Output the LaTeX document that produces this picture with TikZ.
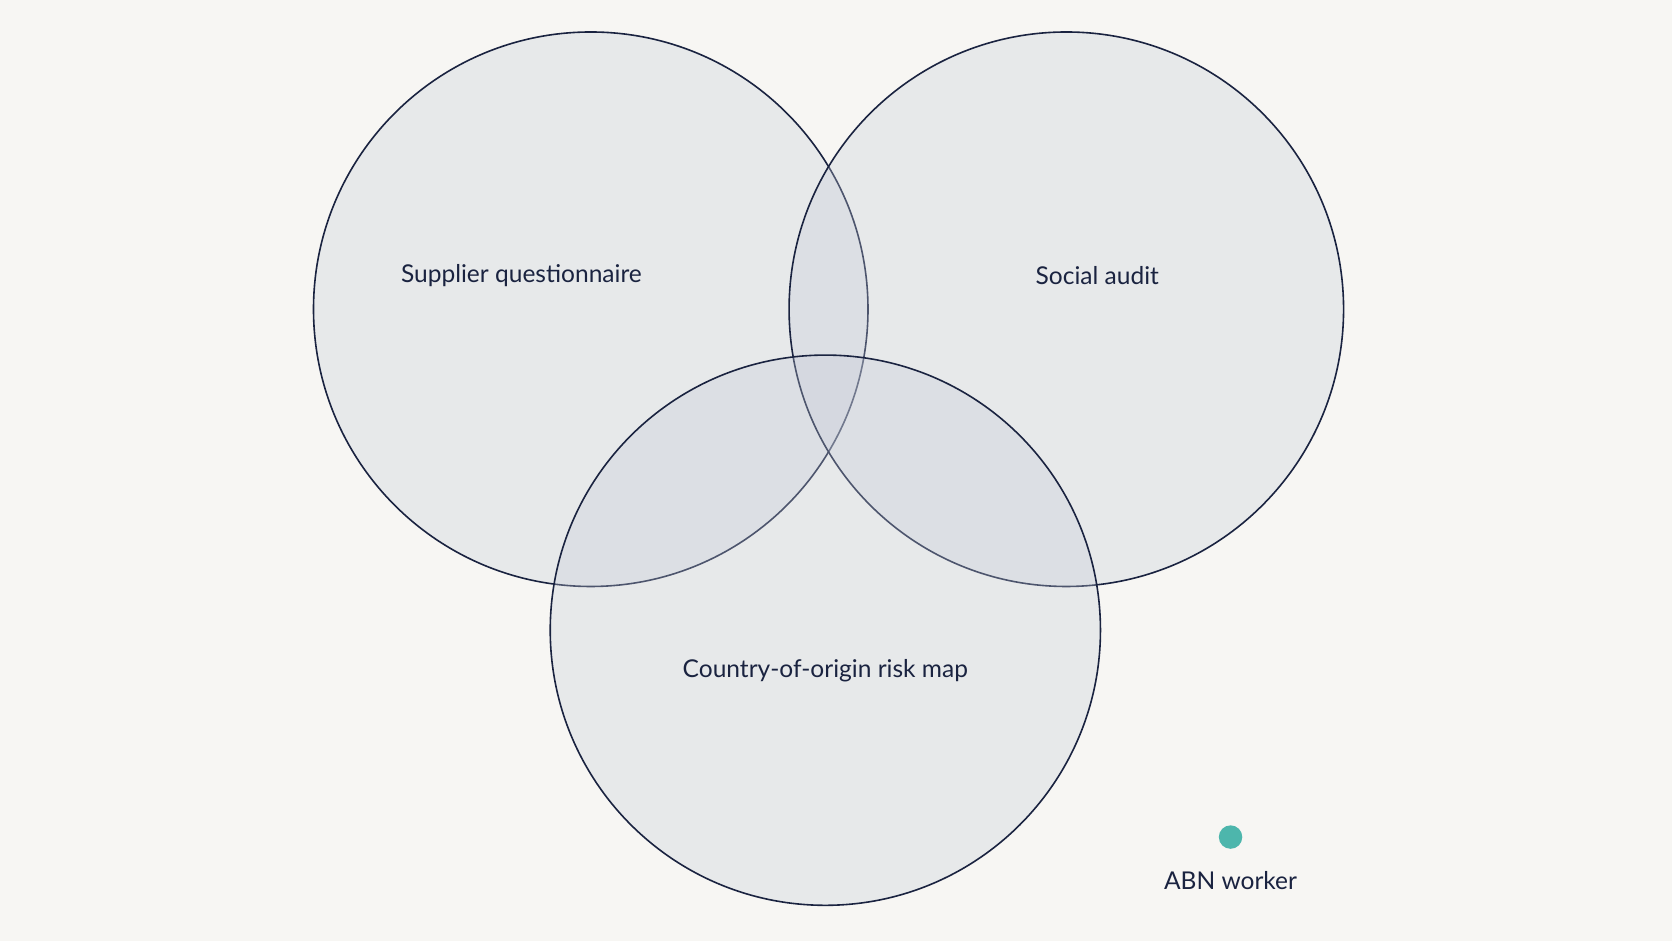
\documentclass[tikz,border=0pt]{standalone}
\usepackage{fontspec}
\setmainfont{Lato}
\definecolor{bgpaper}{HTML}{F7F6F3}
\definecolor{setfill}{HTML}{C5CBD8}
\definecolor{setline}{HTML}{1A2340}
\definecolor{dotteal}{HTML}{4DB6AC}
\tikzset{
  set/.style={draw=setline, line width=1.5pt, fill=setfill, fill opacity=0.3},
  setlabel/.style={text=setline, font=\fontsize{23}{26}\selectfont},
}
\begin{document}
\begin{tikzpicture}[x=1pt, y=-1pt]
  \fill[bgpaper] (0,0) rectangle (1568,882);
  \useasboundingbox (0,0) rectangle (1568,882);
  % the three sets
  \draw[set] (554,290) circle [radius=260];
  \draw[set] (1000,290) circle [radius=260];
  \draw[set] (774,591) circle [radius=258];
  \node[setlabel] (quest) at (489,258) {Supplier questionnaire};
  \node[setlabel] (audit) at (1029,258) {Social audit};
  \node[setlabel] (riskmap) at (774,629) {Country-of-origin risk map};
  % legend
  \fill[dotteal] (1154,785) circle [radius=11];
  \node[setlabel] (worker) at (1154,826) {ABN worker};
\end{tikzpicture}
\end{document}
